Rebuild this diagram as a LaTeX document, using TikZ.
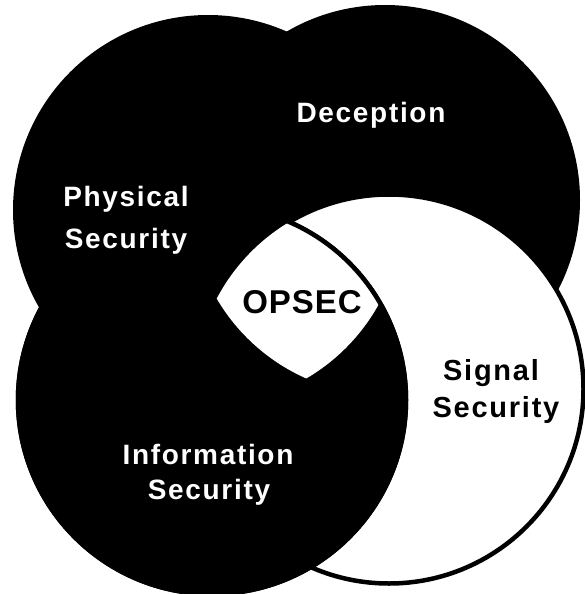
\documentclass[tikz,border=0pt]{standalone}
\usepackage{fontspec}
\setmainfont{Liberation Sans}
\newfontfamily\lblfont[LetterSpace=6]{Liberation Sans}
\newfontfamily\opsfont[LetterSpace=3]{Liberation Sans}
\begin{document}
\begin{tikzpicture}[x=1pt,y=-1pt,
  lbl/.style={text=white,font=\lblfont\bfseries\fontsize{28}{32}\selectfont,inner sep=0pt,anchor=base},
  dlbl/.style={text=black,font=\lblfont\bfseries\fontsize{29}{33}\selectfont,inner sep=0pt,anchor=base},
  olbl/.style={text=black,font=\opsfont\bfseries\fontsize{33}{36}\selectfont,inner sep=0pt,anchor=base},
  ring/.style={draw=black,line width=4.5pt}]
\useasboundingbox (0,0) rectangle (584,594);
\fill[white] (0,0) rectangle (584,594);
\coordinate (phys) at (208,210);
\coordinate (dec) at (385,200);
\coordinate (info) at (212,400);
\coordinate (sig) at (389,389);
% black circles
\fill[black] (phys) circle[radius=195pt];
\fill[black] (dec) circle[radius=195pt];
% signal security (white with outline)
\fill[white,ring] (sig) circle[radius=194.5pt];
% information security
\fill[black,ring] (info) circle[radius=194pt];
% OPSEC: intersection of all four
\begin{scope}
  \clip (phys) circle[radius=195pt];
  \clip (dec) circle[radius=195pt];
  \clip (info) circle[radius=194pt];
  \fill[white] (sig) circle[radius=194.5pt];
\end{scope}
\draw[ring] (info) circle[radius=194pt];
% labels
\node[lbl] (deception) at (371,122) {Deception};
\node[lbl] (phys1) at (126,206) {Physical};
\node[lbl] (phys2) at (126,248) {Security};
\node[olbl] (opsec) at (302,313) {OPSEC};
\node[dlbl] (sig1) at (491,380) {Signal};
\node[dlbl] (sig2) at (496,417) {Security};
\node[lbl] (info1) at (208,464) {Information};
\node[lbl] (info2) at (209,499) {Security};
\end{tikzpicture}
\end{document}
